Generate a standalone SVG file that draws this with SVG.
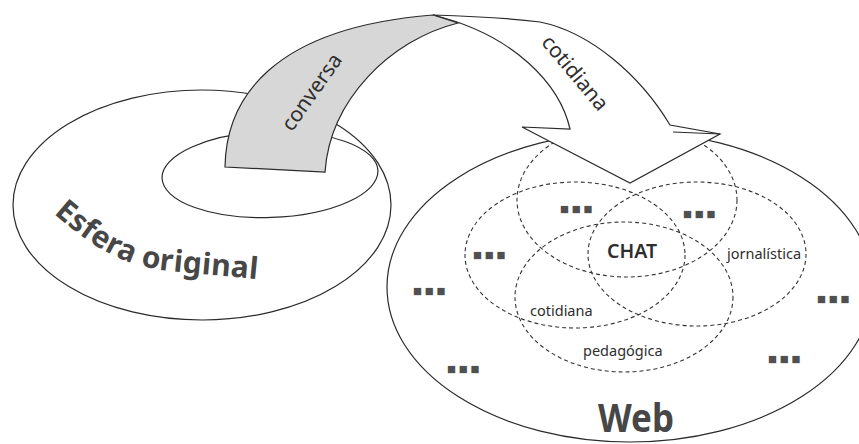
<svg xmlns="http://www.w3.org/2000/svg" xmlns:xlink="http://www.w3.org/1999/xlink" width="859" height="444" viewBox="0 0 859 444">
<style>
.solid{fill:none;stroke:#2a2a2a;stroke-width:1.2}
.dash{fill:none;stroke:#333;stroke-width:1.1;stroke-dasharray:4 3}
.lbl{font-family:"Noto Sans","Open Sans","DejaVu Sans",sans-serif;fill:#2e2e2e}
.big{font-family:"Noto Sans","Open Sans","DejaVu Sans",sans-serif;font-weight:bold;fill:#474747}
.sq{font-family:"DejaVu Sans",sans-serif;fill:#505050;font-size:9.5px;letter-spacing:2.8px}
.arrow{stroke:#2a2a2a;stroke-width:1.2;stroke-linejoin:miter}
</style>
<defs>
<path id="esferaPath" d="M52,212 C90,245 120,266 170,271 C220,276 240,277 275,281"/>
</defs>
<rect width="859" height="444" fill="#fff"/>

<g id="esfera-original">
<ellipse class="solid" cx="202" cy="205" rx="189" ry="115"/>
<ellipse class="solid" cx="270" cy="174.5" rx="108" ry="43" transform="rotate(-2 270 174.5)"/>
<text class="big" font-size="30"><textPath xlink:href="#esferaPath" startOffset="2" textLength="220" lengthAdjust="spacing">Esfera original</textPath></text>
</g>

<g id="web">
<ellipse class="solid" cx="630" cy="287" rx="243" ry="155"/>
<text class="big" x="636" y="432" font-size="39" text-anchor="middle" textLength="76" lengthAdjust="spacingAndGlyphs">Web</text>
<text class="sq" x="413" y="294">■■■</text>
<text class="sq" x="447" y="372">■■■</text>
<text class="sq" x="817" y="302">■■■</text>
<text class="sq" x="768" y="362">■■■</text>
</g>

<g id="venn-left">
<ellipse class="dash" cx="575" cy="255" rx="110" ry="73"/>
<text class="sq" x="473" y="258">■■■</text>
</g>
<g id="venn-right">
<ellipse class="dash" cx="697" cy="254" rx="109" ry="72"/>
<text class="lbl" x="727" y="259" font-size="14.5">jornalística</text>
</g>
<g id="venn-top">
<ellipse class="dash" cx="627" cy="200" rx="110" ry="77"/>
<text class="sq" x="560" y="212">■■■</text>
<text class="sq" x="683" y="217">■■■</text>
</g>
<g id="venn-bottom">
<ellipse class="dash" cx="624" cy="297" rx="109" ry="75"/>
<text class="lbl" x="583" y="356" font-size="14.5">pedagógica</text>
</g>
<g id="chat">
<text class="lbl" x="632" y="258" font-size="19.5" font-weight="600" fill="#3d3d3d" text-anchor="middle" textLength="50" lengthAdjust="spacingAndGlyphs">CHAT</text>
</g>
<g id="cotidiana-region">
<text class="lbl" x="530" y="316" font-size="14.5">cotidiana</text>
</g>

<g id="connectors">
<path class="arrow" fill="#fff" d="M433,15 Q500,17 540,22 C590,32 640,75 670,125 L720,134 L630,183 L522,127 L570,129 C560,85 515,35 433,15 Z"/>
<line class="arrow" x1="673" y1="132" x2="720" y2="134"/>
<path class="arrow" fill="#d7d7d7" d="M225,167 C226,100 270,28 433,15 L458,23 C390,40 330,100 325,172 Z"/>
<text class="lbl" font-size="21" text-anchor="middle" transform="translate(313,93) rotate(-55)" x="0" y="5.5">conversa</text>
<text class="lbl" font-size="21" text-anchor="middle" transform="translate(575,73) rotate(50)" x="0" y="7">cotidiana</text>
</g>
</svg>
